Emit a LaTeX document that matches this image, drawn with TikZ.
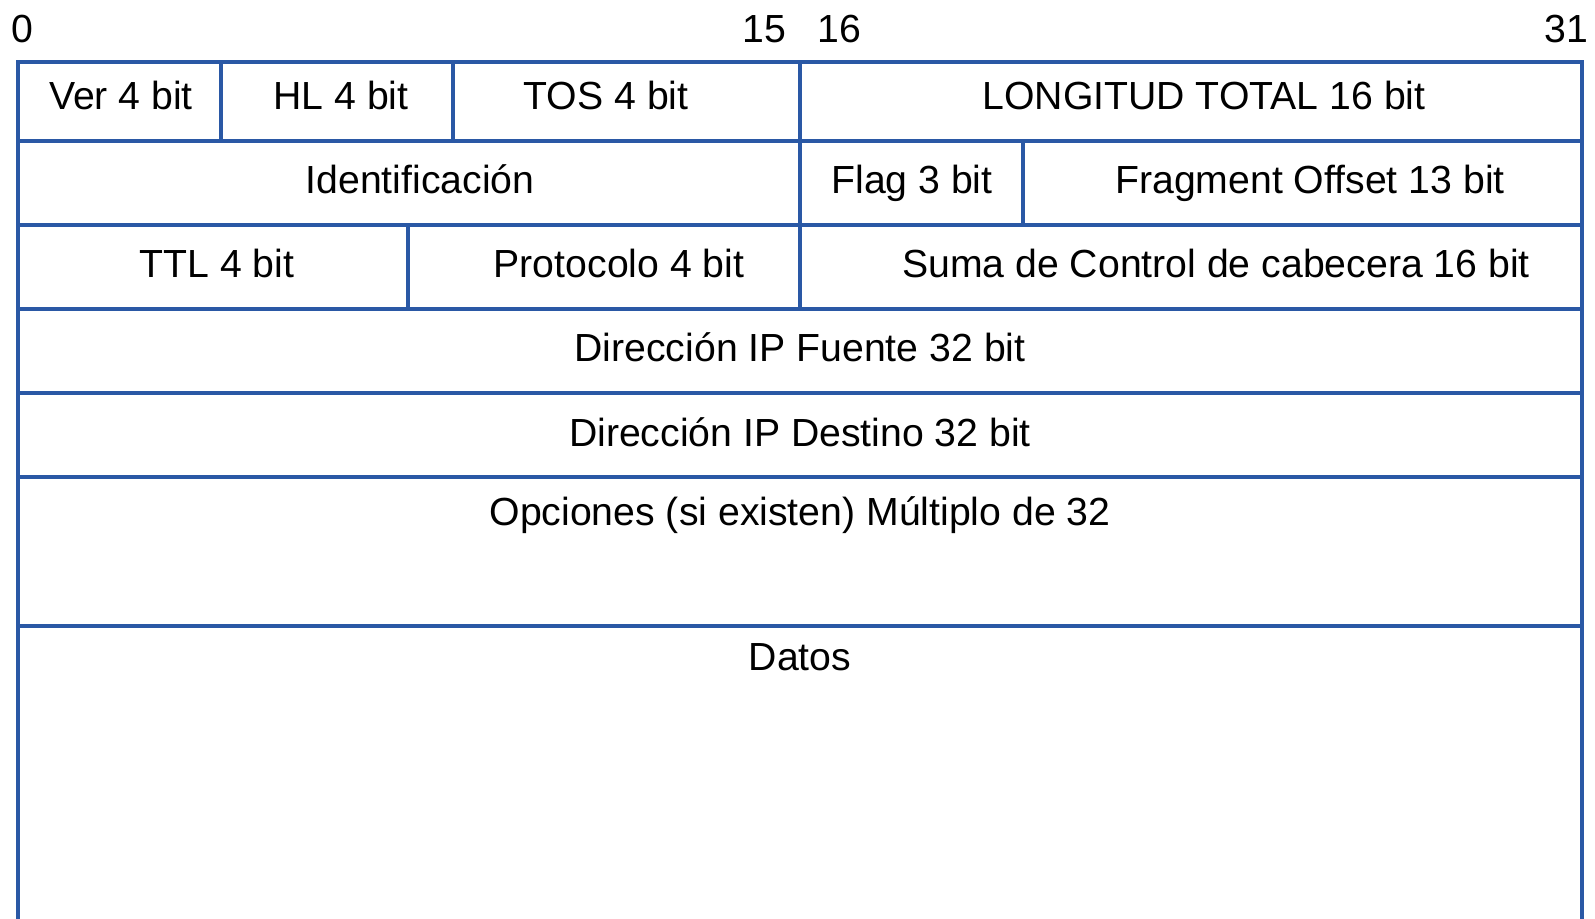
\documentclass[tikz,border=0pt]{standalone}
\usepackage{fontspec}
\setmainfont{Liberation Sans}
\definecolor{framecol}{RGB}{42,88,165}
\begin{document}
\begin{tikzpicture}[x=0.5pt,y=-0.5pt,
  gridline/.style={draw=framecol,line width=2.1pt},
  lbl/.style={anchor=base,inner sep=0pt,font=\fontsize{19.6}{22}\selectfont}]
\useasboundingbox (0,0) rectangle (1595,919);
% frame
\coordinate (tl) at (18,62);
\coordinate (tr) at (1582,62);
\coordinate (bl) at (18,919);
\coordinate (br) at (1582,919);
\draw[gridline,line join=miter] (bl) -- (tl) -- (tr) -- (br);
% horizontal lines
\foreach \y in {141,225,309,393,477,626}
  \draw[gridline] (18,\y) -- (1582,\y);
% vertical lines
\draw[gridline] (221,62) -- (221,141);
\draw[gridline] (453,62) -- (453,141);
\draw[gridline] (800,62) -- (800,309);
\draw[gridline] (1023,141) -- (1023,225);
\draw[gridline] (408,225) -- (408,309);
% bit numbers
\node[lbl] (b0) at (22,43) {0};
\node[lbl] (b15) at (764,43) {15};
\node[lbl] (b16) at (839,43) {16};
\node[lbl] (b31) at (1566,43) {31};
% row 1
\node[lbl] (ver) at (121,110) {Ver 4 bit};
\node[lbl] (hl) at (341,110) {HL 4 bit};
\node[lbl] (tos) at (606,110) {TOS 4 bit};
\node[lbl] (len) at (1204,110) {LONGITUD TOTAL 16 bit};
% row 2
\node[lbl] (ident) at (420,194) {Identificación};
\node[lbl] (flag) at (912,194) {Flag 3 bit};
\node[lbl] (frag) at (1310,194) {Fragment Offset 13 bit};
% row 3
\node[lbl] (ttl) at (217,278) {TTL 4 bit};
\node[lbl] (proto) at (619,278) {Protocolo 4 bit};
\node[lbl] (csum) at (1216,278) {Suma de Control de cabecera 16 bit};
% rows 4-7
\node[lbl] (src) at (800,362) {Dirección IP Fuente 32 bit};
\node[lbl] (dst) at (800,446) {Dirección IP Destino 32 bit};
\node[lbl] (opt) at (800,525) {Opciones (si existen) Múltiplo de 32};
\node[lbl] (data) at (800,670) {Datos};
\end{tikzpicture}
\end{document}
